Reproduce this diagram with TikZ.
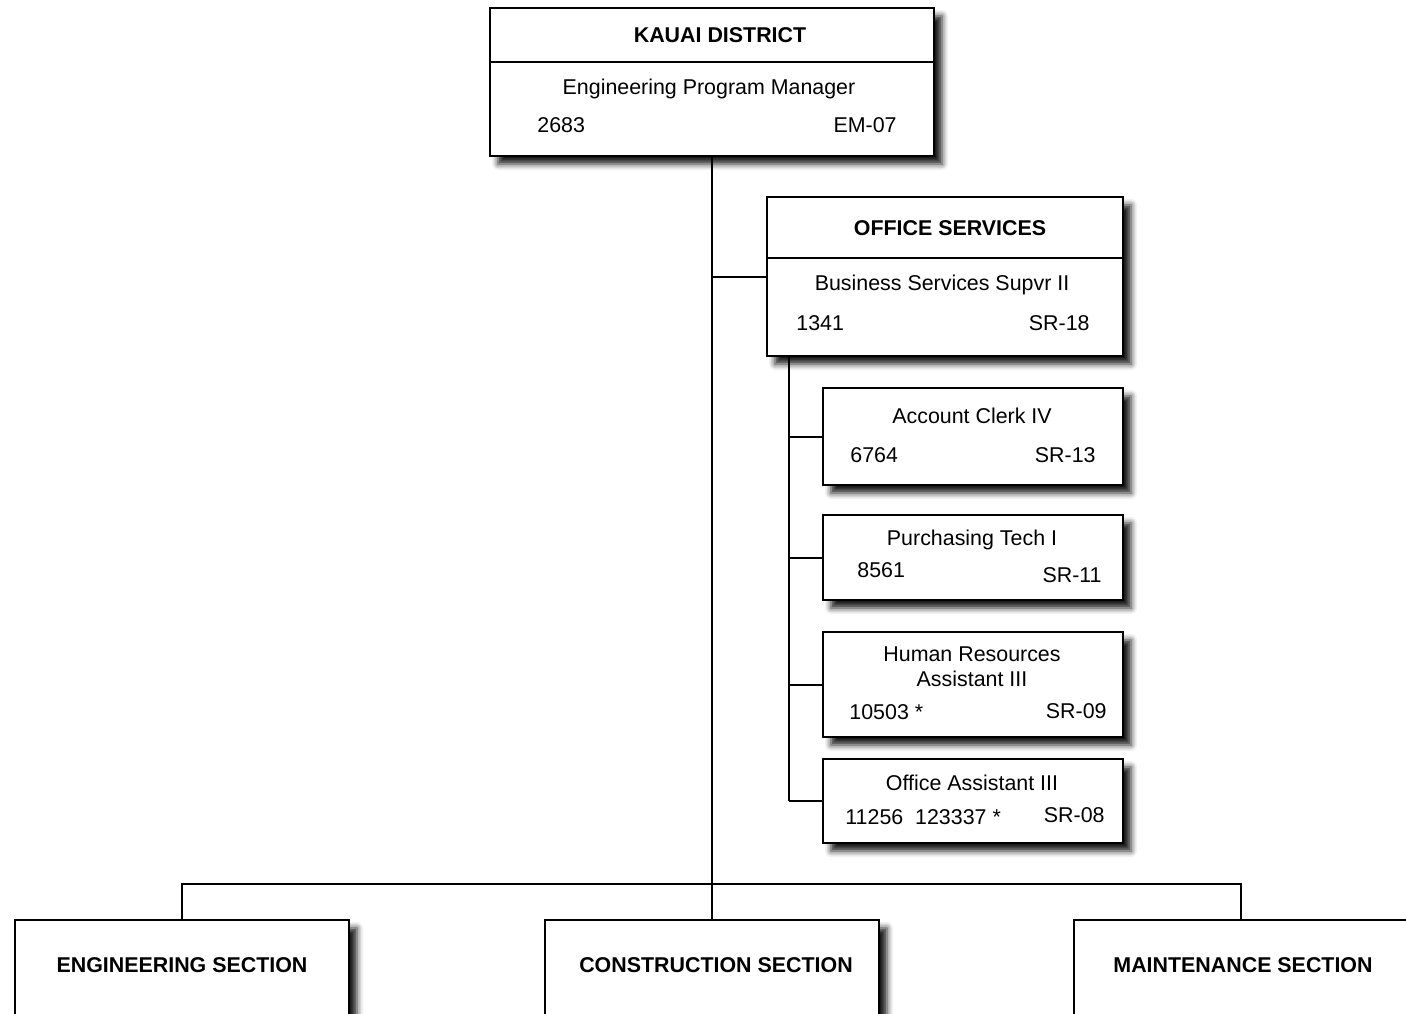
\documentclass[tikz,border=0pt]{standalone}
\usepackage{fontspec}
\setmainfont{Liberation Sans}
\usetikzlibrary{positioning, calc, shadows.blur}
\definecolor{ink}{HTML}{000000}
\definecolor{paper}{HTML}{FFFFFF}
\tikzset{
  % Position boxes
  orgbox/.style={
    rectangle, draw=ink, line width=1.2pt, fill=paper, inner sep=0pt, outer sep=0pt,
    blur shadow={shadow xshift=4pt, shadow yshift=-4pt,
      shadow blur radius=3pt, shadow opacity=90}
  },
  % Texts
  boxtitle/.style={font=\bfseries\fontsize{10.7}{12.5}\selectfont, inner sep=0pt},
  jobtitle/.style={font=\fontsize{10.7}{12.5}\selectfont, align=center, inner sep=0pt},
  posnum/.style={font=\fontsize{10.7}{12.5}\selectfont, anchor=west, inner sep=0pt},
  grade/.style={font=\fontsize{10.7}{12.5}\selectfont, anchor=east, inner sep=0pt},
  % Lines
  link/.style={draw=ink, line width=1pt},
  divider/.style={draw=ink, line width=1.1pt},
}
\begin{document}
\begin{tikzpicture}[x=0.5pt, y=-0.5pt]
  \useasboundingbox (0,0) rectangle (1406,1013);
  \clip (0,0) rectangle (1406,1013);

  % District head
  \node[orgbox, minimum width=222pt, minimum height=74pt] (kauai) at (712,82) {};
  \draw[divider] ([yshift=-27pt]kauai.north west) -- ([yshift=-27pt]kauai.north east);
  \node[boxtitle] (kauaiTitle) at (720,35) {KAUAI DISTRICT};
  \node[jobtitle] (kauaiJob) at (709,89) {Engineering Program Manager};
  \node[posnum] (kauaiNum) at (537,125) {2683};
  \node[grade] (kauaiGrade) at (897,125) {EM-07};

  % Office services
  \node[orgbox, minimum width=178pt, minimum height=79.5pt] (office) at (945,276.5) {};
  \draw[divider] ([yshift=-30.5pt]office.north west) -- ([yshift=-30.5pt]office.north east);
  \node[boxtitle] (officeTitle) at (950,228) {OFFICE SERVICES};
  \node[jobtitle] (officeJob) at (942,285) {Business Services Supvr II};
  \node[posnum] (officeNum) at (796,323) {1341};
  \node[grade] (officeGrade) at (1090,323) {SR-18};

  % Office staff
  \node[orgbox, minimum width=150pt, minimum height=48.5pt] (clerk) at (973,436.5) {};
  \node[jobtitle] (clerkJob) at (972,416) {Account Clerk IV};
  \node[posnum] (clerkNum) at (850,455) {6764};
  \node[grade] (clerkGrade) at (1096,455) {SR-13};

  \node[orgbox, minimum width=150pt, minimum height=42.5pt] (purch) at (973,557.5) {};
  \node[jobtitle] (purchJob) at (972,540) {Purchasing Tech I};
  \node[posnum] (purchNum) at (857,570) {8561};
  \node[grade] (purchGrade) at (1102,575) {SR-11};

  \node[orgbox, minimum width=150pt, minimum height=52.5pt] (hra) at (973,684.5) {};
  \node[jobtitle] (hraJob) at (972,666.5) {Human Resources\\Assistant III};
  \node[posnum] (hraNum) at (849,712) {10503 *};
  \node[grade] (hraGrade) at (1107,711) {SR-09};

  \node[orgbox, minimum width=150pt, minimum height=42pt] (oa) at (973,801) {};
  \node[jobtitle] (oaJob) at (972,783) {Office Assistant III};
  \node[posnum] (oaNum) at (845,817) {11256\ \ 123337 *};
  \node[grade] (oaGrade) at (1105,815) {SR-08};

  % Sections
  \node[orgbox, minimum width=167pt, minimum height=80pt] (eng) at (182,1000) {};
  \node[boxtitle] (engTitle) at (182,965) {ENGINEERING SECTION};
  \node[orgbox, minimum width=167pt, minimum height=80pt] (cons) at (712,1000) {};
  \node[boxtitle] (consTitle) at (716,965) {CONSTRUCTION SECTION};
  \node[orgbox, minimum width=167pt, minimum height=80pt] (maint) at (1241,1000) {};
  \node[boxtitle] (maintTitle) at (1243,965) {MAINTENANCE SECTION};

  % Connectors
  \coordinate (sub) at (789,356);
  \coordinate (bar) at (712,884);
  \draw[link] (kauai.south) -- (cons.north);
  \draw[link] (kauai.south |- office.west) -- (office.west);
  \draw[link] (sub) -- (sub |- oa.west);
  \foreach \n in {clerk, purch, hra, oa}
    \draw[link] (sub |- \n.west) -- (\n.west);
  \draw[link] (eng.north) |- (bar) -| (maint.north);
\end{tikzpicture}
\end{document}
